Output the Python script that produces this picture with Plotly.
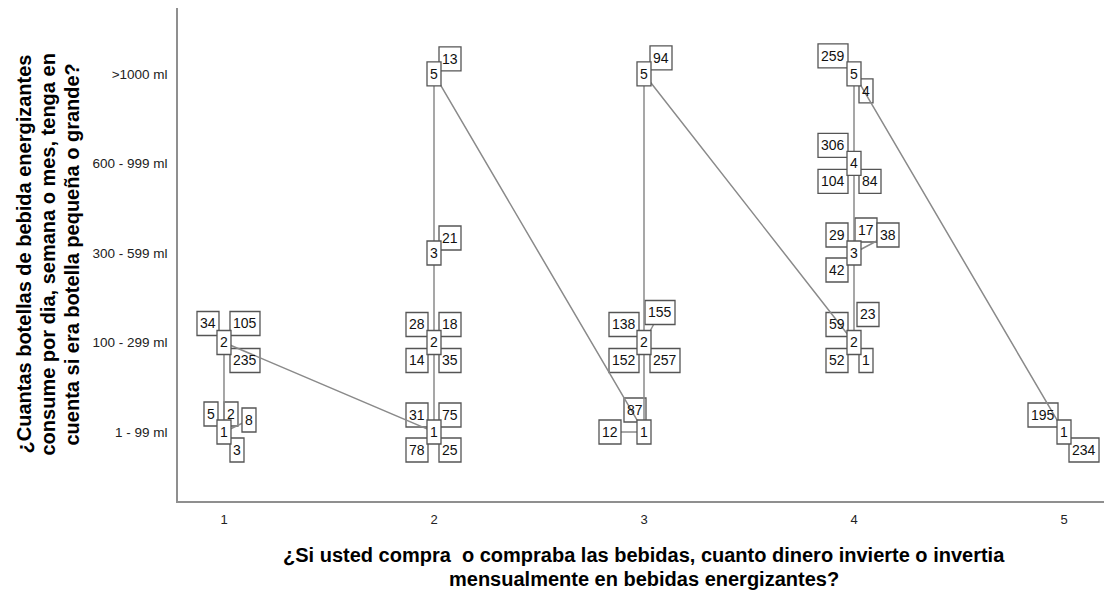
import plotly.graph_objects as go

# points of the line (x code, y code), in drawing order
x_codes = [1, 1, 2, 2, 2, 2, 3, 3, 3, 4, 4, 4, 4, 5]
y_codes = [1, 2, 1, 2, 3, 5, 1, 2, 5, 2, 3, 4, 5, 1]
x_tick_labels = ["1", "2", "3", "4", "5"]
y_tick_labels = ["1 - 99 ml", "100 - 299 ml", "300 - 599 ml", "600 - 999 ml", ">1000 ml"]
# case numbers labelled around each point
case_labels = [
    [5, 2, 8, 3],
    [34, 105, 235],
    [31, 75, 78, 25],
    [28, 18, 14, 35],
    [21],
    [13],
    [87, 12],
    [138, 155, 152, 257],
    [94],
    [59, 23, 52, 1],
    [29, 17, 38, 42],
    [306, 104, 84],
    [259, 4],
    [195, 234],
]

x_title_lines = ["¿Si usted compra  o compraba las bebidas, cuanto dinero invierte o invertia",
                 "mensualmente en bebidas energizantes?"]
y_title_lines = ["¿Cuantas botellas de bebida energizantes",
                 "consume por dia, semana o mes, tenga en",
                 "cuenta si era botella pequeña o grande?"]

# label placement (pixel offset of box centre from the point, leader line flag)
label_offsets = [
    [(-13, -18, 0), (7, -18, 0), (25, -12, 1), (13, 18, 0)],
    [(-16, -19, 0), (21, -19, 0), (21, 18, 0)],
    [(-17, -17, 0), (16, -17, 0), (-17, 18, 0), (16, 18, 0)],
    [(-17, -18, 0), (16, -18, 0), (-17, 18, 0), (16, 18, 0)],
    [(16, -15, 0)],
    [(16, -15, 0)],
    [(-9, -22, 0), (-34, 0, 1)],
    [(-20, -18, 0), (16, -30, 1), (-20, 18, 0), (21, 18, 0)],
    [(17, -16, 0)],
    [(-17, -18, 0), (14, -28, 0), (-17, 18, 0), (12, 18, 0)],
    [(-17, -18, 0), (12, -23, 0), (34, -18, 1), (-17, 17, 0)],
    [(-21, -18, 0), (-21, 18, 0), (16, 18, 0)],
    [(-21, -18, 0), (12, 17, 0)],
    [(-21, -17, 0), (20, 18, 0)],
]

FONT = "Liberation Sans, Arial, sans-serif"
BOX_LINE = "#555555"
LINE_GREY = "#8a8a8a"


def box_width(txt):
    return 6 + 8 * len(txt)


fig = go.Figure()
fig.add_trace(go.Scatter(x=x_codes, y=y_codes, mode="lines",
                         line=dict(color=LINE_GREY, width=1.5),
                         hoverinfo="skip", showlegend=False))

shapes = []
annotations = []
for px, py, cases, offs in zip(x_codes, y_codes, case_labels, label_offsets):
    for case, (dx, dy, leader) in zip(cases, offs):
        txt = str(case)
        w = box_width(txt)
        if leader:
            shapes.append(dict(type="line", xref="x", yref="y",
                               xsizemode="pixel", ysizemode="pixel",
                               xanchor=px, yanchor=py,
                               x0=0, y0=0, x1=dx, y1=-dy,
                               line=dict(color=LINE_GREY, width=1.5),
                               layer="below"))
        shapes.append(dict(type="rect", xref="x", yref="y",
                           xsizemode="pixel", ysizemode="pixel",
                           xanchor=px, yanchor=py,
                           x0=dx - w / 2, x1=dx + w / 2,
                           y0=-dy - 12, y1=-dy + 12,
                           fillcolor="white",
                           line=dict(color=BOX_LINE, width=1.3),
                           layer="below"))
        annotations.append(dict(x=px, y=py, xref="x", yref="y",
                                text=txt, showarrow=False,
                                xshift=dx, yshift=-dy,
                                font=dict(family=FONT, size=14, color="#111111")))

# the point boxes sit on top of the line
for px, py in zip(x_codes, y_codes):
    txt = str(py)
    w = box_width(txt)
    shapes.append(dict(type="rect", xref="x", yref="y",
                       xsizemode="pixel", ysizemode="pixel",
                       xanchor=px, yanchor=py,
                       x0=-w / 2, x1=w / 2, y0=-12, y1=12,
                       fillcolor="white",
                       line=dict(color=BOX_LINE, width=1.3),
                       layer="above"))
    annotations.append(dict(x=px, y=py, xref="x", yref="y",
                            text=txt, showarrow=False,
                            font=dict(family=FONT, size=14, color="#111111")))

# axis titles, one annotation per line
for i, line in enumerate(x_title_lines):
    annotations.append(dict(x=0.5, y=0, xref="paper", yref="paper",
                            text="<b>" + line + "</b>", showarrow=False,
                            yanchor="middle", yshift=-54 - 24 * i,
                            font=dict(family=FONT, size=20, color="black")))
for i, line in enumerate(y_title_lines):
    annotations.append(dict(x=0, y=0.5, xref="paper", yref="paper",
                            text="<b>" + line + "</b>", showarrow=False,
                            textangle=-90, xanchor="center", yanchor="middle",
                            xshift=-155 + 24 * i,
                            font=dict(family=FONT, size=20, color="black")))

fig.update_layout(
    width=1104, height=587,
    margin=dict(l=170, r=2, t=0, b=94),
    paper_bgcolor="white", plot_bgcolor="white",
    shapes=shapes, annotations=annotations,
    showlegend=False,
    font=dict(family=FONT),
)
fig.update_xaxes(range=[0.781, 5.219], tickvals=[1, 2, 3, 4, 5], ticktext=x_tick_labels,
                 showgrid=False, zeroline=False, showline=True,
                 linecolor="#8f8f8f", linewidth=1.5, ticks="",
                 ticklabelstandoff=6,
                 tickfont=dict(family=FONT, size=13, color="#222222"))
fig.update_yaxes(range=[0.229, 5.737], tickvals=[1, 2, 3, 4, 5], ticktext=y_tick_labels,
                 showgrid=False, zeroline=False, showline=True,
                 linecolor="#8f8f8f", linewidth=1.5, ticks="",
                 ticklabelstandoff=6,
                 tickfont=dict(family=FONT, size=13.5, color="#222222"))

fig.write_html("out.html")
